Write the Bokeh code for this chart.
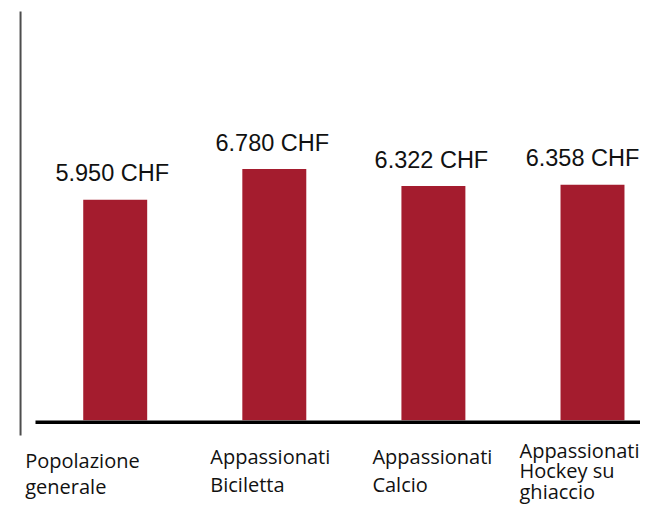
from bokeh.plotting import figure
from bokeh.models import Range1d, ColumnDataSource
from bokeh.core.properties import value
from bokeh.embed import file_html
from bokeh.resources import INLINE

# ---- data ----
categories = ["Popolazione\ngenerale", "Appassionati\nBiciletta",
              "Appassionati\nCalcio", "Appassionati\nHockey su\nghiaccio"]
values = [5950, 6780, 6322, 6358]
value_labels = ["5.950 CHF", "6.780 CHF", "6.322 CHF", "6.358 CHF"]

# ---- layout / style ----
BAR_COLOR = "#A41C2E"
TEXT_FIX = -8.5                      # compensation for text baseline placement
value_dx = [-3, -2, -2, -10]         # px shift of value labels
label_dx = [-90, -64, -61, -73]      # px offset of category label left edge from bar centre
label_dy0 = [48.3, 44.3, 44.3, 38.3] # px offset of first baseline below the zero line
line_step = [26, 28, 28, 20.5]

xs = list(range(len(values)))

p = figure(width=640, height=504, output_backend="svg", toolbar_location=None,
           x_range=Range1d(-0.721, 3.3017), y_range=Range1d(-2276, 11332),
           x_axis_type=None, y_axis_type=None, min_border=0)
p.outline_line_color = None
p.grid.visible = False
p.background_fill_color = "white"
p.border_fill_color = "white"

# left vertical rule
p.segment(x0=[-0.595], y0=[11035], x1=[-0.595], y1=[-413],
          line_color="#4d4d4d", line_width=2)

bars = ColumnDataSource(dict(x=xs, top=values, lab=value_labels,
                             dx=value_dx))
p.vbar(x="x", top="top", bottom=0, width=0.402, source=bars,
       fill_color=BAR_COLOR, line_color=None)

# baseline
p.segment(x0=[-0.501], y0=[-54], x1=[3.6], y1=[-54], line_color="black", line_width=3.5)

# value labels
p.text(x="x", y="top", text="lab", source=bars, text_align="center",
       text_baseline="alphabetic", x_offset="dx", y_offset=-18 + TEXT_FIX,
       text_font=value("Liberation Sans"), text_font_size="23.5px",
       text_color="#111111")

# category labels, one row per line
rx, rt, rdx, rdy = [], [], [], []
for i, cat in enumerate(categories):
    for j, line in enumerate(cat.split("\n")):
        rx.append(xs[i])
        rt.append(line)
        rdx.append(label_dx[i])
        rdy.append(label_dy0[i] + j * line_step[i] + TEXT_FIX)
cats = ColumnDataSource(dict(x=rx, y=[0] * len(rx), t=rt, dx=rdx, dy=rdy))
p.text(x="x", y="y", text="t", source=cats, x_offset="dx", y_offset="dy",
       text_align="left", text_baseline="alphabetic",
       text_font=value("Open Sans"), text_font_size="20px", text_color="#111111")

open("out.html", "w").write(file_html(p, INLINE))
